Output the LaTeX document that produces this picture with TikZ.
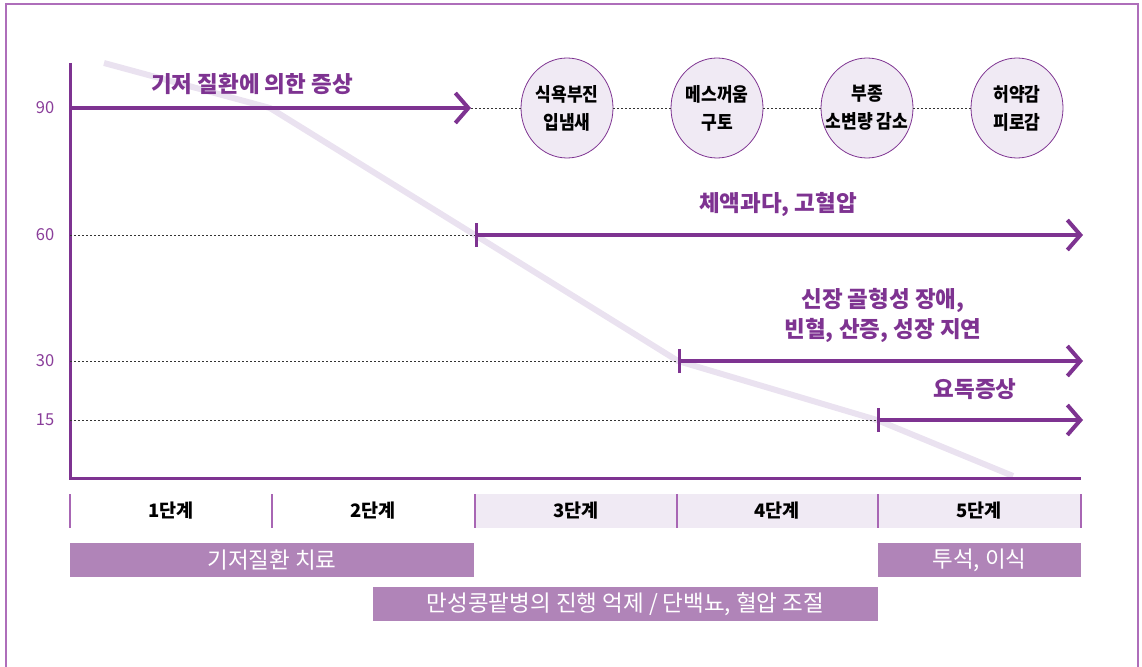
\documentclass[tikz,border=0pt]{standalone}
\usepackage{fontspec}
\setmainfont{Noto Sans CJK KR}
\newfontfamily\kr{Noto Sans CJK KR}
\newfontfamily\krc[FakeStretch=0.9]{Noto Sans CJK KR}
\usetikzlibrary{arrows.meta,shapes.geometric}
\definecolor{pp}{HTML}{7E3391}
\definecolor{ppl}{HTML}{8A3E9A}
\definecolor{lav}{HTML}{F0EAF4}
\definecolor{diag}{HTML}{EAE2F0}
\definecolor{barc}{HTML}{B084B8}
\definecolor{framec}{HTML}{AE6EBA}
\definecolor{sepc}{HTML}{A866B4}
\begin{document}
\begin{tikzpicture}[x=1pt,y=-1pt,
  every node/.style={inner sep=0pt,outer sep=0pt},
  axisline/.style={pp,line width=3pt},
  sym/.style={pp,line width=4pt},
  symarrow/.style={sym,-{Straight Barb[length=13pt,width=30pt,line width=4pt]}},
  symbar/.style={sym,{Bar[width=24pt,line width=3pt]}-{Straight Barb[length=13pt,width=30pt,line width=4pt]}},
  dotline/.style={black!80,line width=0.8pt,dash pattern=on 2pt off 2pt},
  lbl/.style={font=\kr\fontsize{22.5}{30}\selectfont\bfseries,text=pp,align=center},
  ticklbl/.style={font=\kr\fontsize{16.5}{18}\selectfont,text=ppl},
  sympt/.style={ellipse,minimum width=92pt,minimum height=100pt,fill=lav,draw=pp,line width=0.8pt},
  symtext/.style={font=\krc\fontsize{19}{28}\selectfont\bfseries,align=center,inner sep=0pt},
  stagelbl/.style={font=\kr\fontsize{18.5}{20}\selectfont\bfseries,text=black},
  treat/.style={fill=barc,minimum height=34pt,font=\kr\fontsize{22.5}{24}\selectfont,text=white},
]
\useasboundingbox (0,0) rectangle (1142,666);
% frame
\draw[framec,line width=1.2pt] (6,680) -- (6,4) -- (1138,4) -- (1138,680);
% diagonal trend line
\draw[diag,line width=6pt,line join=round] (104,63) -- (270,108) -- (475,235) -- (678,361) -- (877,420) -- (1013,476);
% axes
\coordinate (ytop) at (70,63);
\coordinate (origin) at (70,478);
\coordinate (xend) at (1081,478);
\draw[axisline] (ytop) -- (origin) -- (xend);
% ticks
\coordinate (y90) at (70,108);
\coordinate (y60) at (70,235);
\coordinate (y30) at (70,361);
\coordinate (y15) at (70,420);
\node[ticklbl] (t90) at (45,108) {90};
\node[ticklbl] (t60) at (45,235) {60};
\node[ticklbl] (t30) at (45,361) {30};
\node[ticklbl] (t15) at (45,420) {15};
% arrow points
\coordinate (a1e) at (471,108);
\coordinate (a2s) at (475,235);
\coordinate (a2e) at (1083,235);
\coordinate (a3s) at (678,361);
\coordinate (a3e) at (1083,361);
\coordinate (a4s) at (877,420);
\coordinate (a4e) at (1083,420);
% dotted guides
\draw[dotline] (y60) -- (a2s);
\draw[dotline] (y30) -- (a3s);
\draw[dotline] (y15) -- (a4s);
% arrows
\draw[symarrow] (y90) -- (a1e);
\draw[symbar] (a2s) -- (a2e);
\draw[symbar] (a3s) -- (a3e);
\draw[symbar] (a4s) -- (a4e);
% labels
\node[lbl] (l1) at (252,84) {기저 질환에 의한 증상};
\node[lbl] (l2) at (778,204) {체액과다, 고혈압};
\node[lbl] (l3) at (883,315) {신장 골형성 장애,\\빈혈, 산증, 성장 지연};
\node[lbl] (l4) at (975,389) {요독증상};
% symptom circles
\node[sympt] (c1) at (567,108) {};
\node[sympt] (c2) at (717,108) {};
\node[sympt] (c3) at (867,108) {};
\node[sympt] (c4) at (1017,108) {};
\node[symtext] (c1t) at (c1.center) {식욕부진\\입냄새};
\node[symtext] (c2t) at (c2.center) {메스꺼움\\구토};
\node[symtext] (c3t) at (c3.center) {부종\\소변량 감소};
\node[symtext] (c4t) at (c4.center) {허약감\\피로감};
\draw[dotline] (a1e) -- (c1.west);
\draw[dotline] (c1.east) -- (c2.west);
\draw[dotline] (c2.east) -- (c3.west);
\draw[dotline] (c3.east) -- (c4.west);
% stages
\fill[lav] (475,494) rectangle (1081,528);
\foreach \x in {70,272,475,677,878,1081}{\draw[sepc,line width=1.2pt] (\x,494) -- (\x,528);}
\node[stagelbl] (s1) at (171,511) {1단계};
\node[stagelbl] (s2) at (373,511) {2단계};
\node[stagelbl] (s3) at (576,511) {3단계};
\node[stagelbl] (s4) at (777,511) {4단계};
\node[stagelbl] (s5) at (979,511) {5단계};
% treatments
\node[treat,minimum width=404pt] (tr1) at (272,560) {기저질환 치료};
\node[treat,minimum width=203pt] (tr2) at (979.5,560) {투석, 이식};
\node[treat,minimum width=505pt] (tr3) at (625.5,604) {만성콩팥병의 진행 억제 / 단백뇨, 혈압 조절};
\end{tikzpicture}
\end{document}
